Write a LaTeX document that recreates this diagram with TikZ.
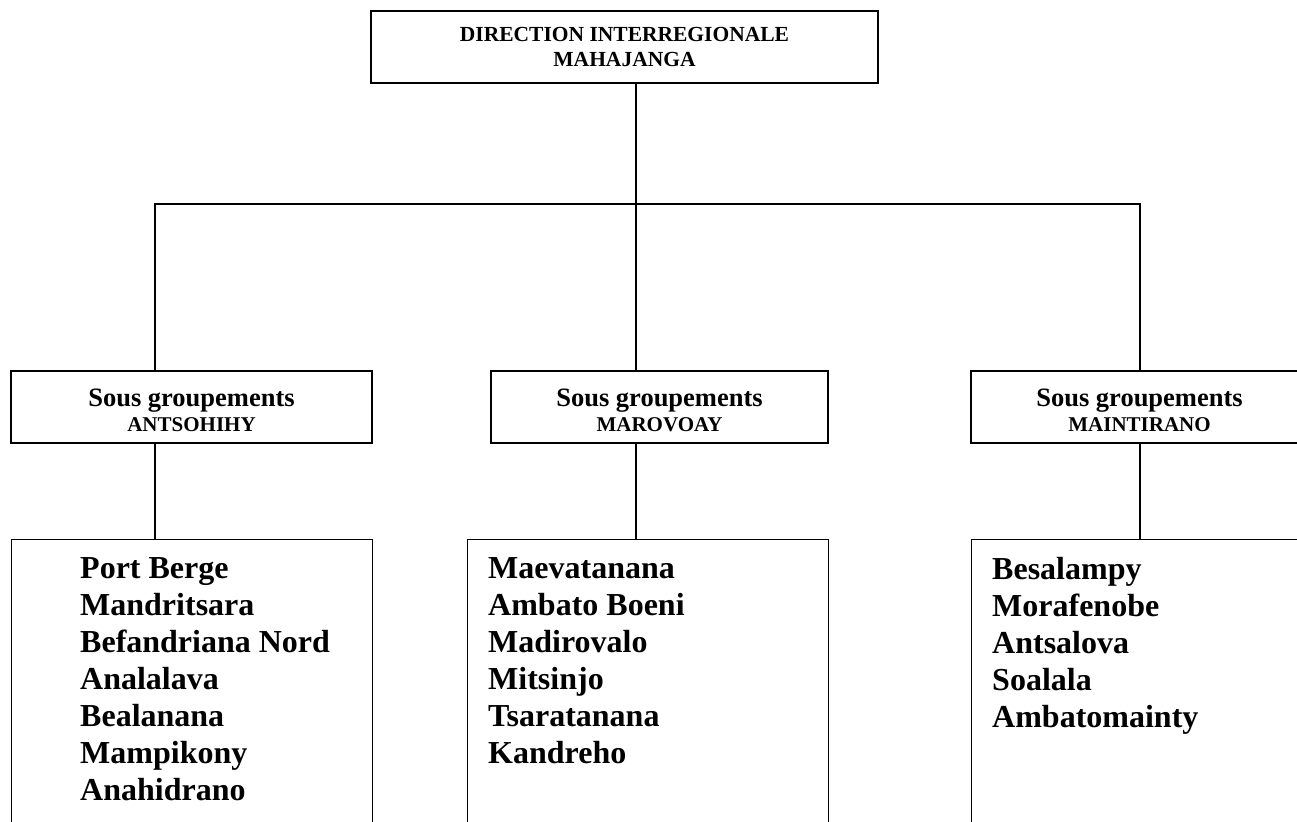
\documentclass[tikz,border=0pt]{standalone}
\usepackage{fontspec}
\setmainfont{Liberation Serif}
\newcommand\sgbig{\fontsize{26.5}{24.5}\selectfont\rule{0pt}{24pt}}
\begin{document}
\begin{tikzpicture}[x=1pt,y=-1pt,
  conn/.style={draw=black, line width=1.4pt},
  box/.style={draw=black, line width=1.4pt, inner sep=0pt, align=center},
  topbox/.style={box, minimum width=507pt, minimum height=72pt, font=\bfseries\fontsize{21.5}{25}\selectfont},
  subbox/.style={box, minimum width=#1, minimum height=72pt, font=\bfseries\fontsize{21}{24.5}\selectfont},
  listbox/.style={draw=black, line width=1.4pt, inner sep=0pt, minimum width=361pt, minimum height=320pt, anchor=north west},
  listtext/.style={inner sep=0pt, align=left, anchor=north west, font=\bfseries\fontsize{32}{37}\selectfont}
]
\useasboundingbox (0,0) rectangle (1297,821);
\clip (0,0) rectangle (1297,821);

% top
\node[topbox] (top) at (624.5,47) {DIRECTION INTERREGIONALE\\MAHAJANGA};

% sub groups
\node[subbox=361pt] (s1) at (191.5,407) {{\sgbig Sous groupements}\\ANTSOHIHY};
\node[subbox=337pt] (s2) at (659.5,407) {{\sgbig Sous groupements}\\MAROVOAY};
\node[subbox=337pt] (s3) at (1139.5,407) {{\sgbig Sous groupements}\\MAINTIRANO};

% lists
\node[listbox] (l1) at (11,539) {};
\node[listbox] (l2) at (467,539) {};
\node[listbox] (l3) at (971,539) {};
\node[listtext] (t1) at (80,557.5) {Port Berge\\Mandritsara\\Befandriana Nord\\Analalava\\Bealanana\\Mampikony\\Anahidrano};
\node[listtext] (t2) at (488,557.5) {Maevatanana\\Ambato Boeni\\Madirovalo\\Mitsinjo\\Tsaratanana\\Kandreho};
\node[listtext] (t3) at (992,557.5) {Besalampy\\Morafenobe\\Antsalova\\Soalala\\Ambatomainty};

% connectors
\coordinate (jc) at (636,204);
\coordinate (jl) at (155,204);
\coordinate (jr) at (1140,204);
\draw[conn] (top.south -| jc) -- (s2.north -| jc);
\draw[conn] (s1.north -| jl) -- (jl) -- (jr) -- (s3.north -| jr);
\draw[conn] (s1.south -| jl) -- (l1.north -| jl);
\draw[conn] (s2.south -| jc) -- (l2.north -| jc);
\draw[conn] (s3.south -| jr) -- (l3.north -| jr);
\end{tikzpicture}
\end{document}
